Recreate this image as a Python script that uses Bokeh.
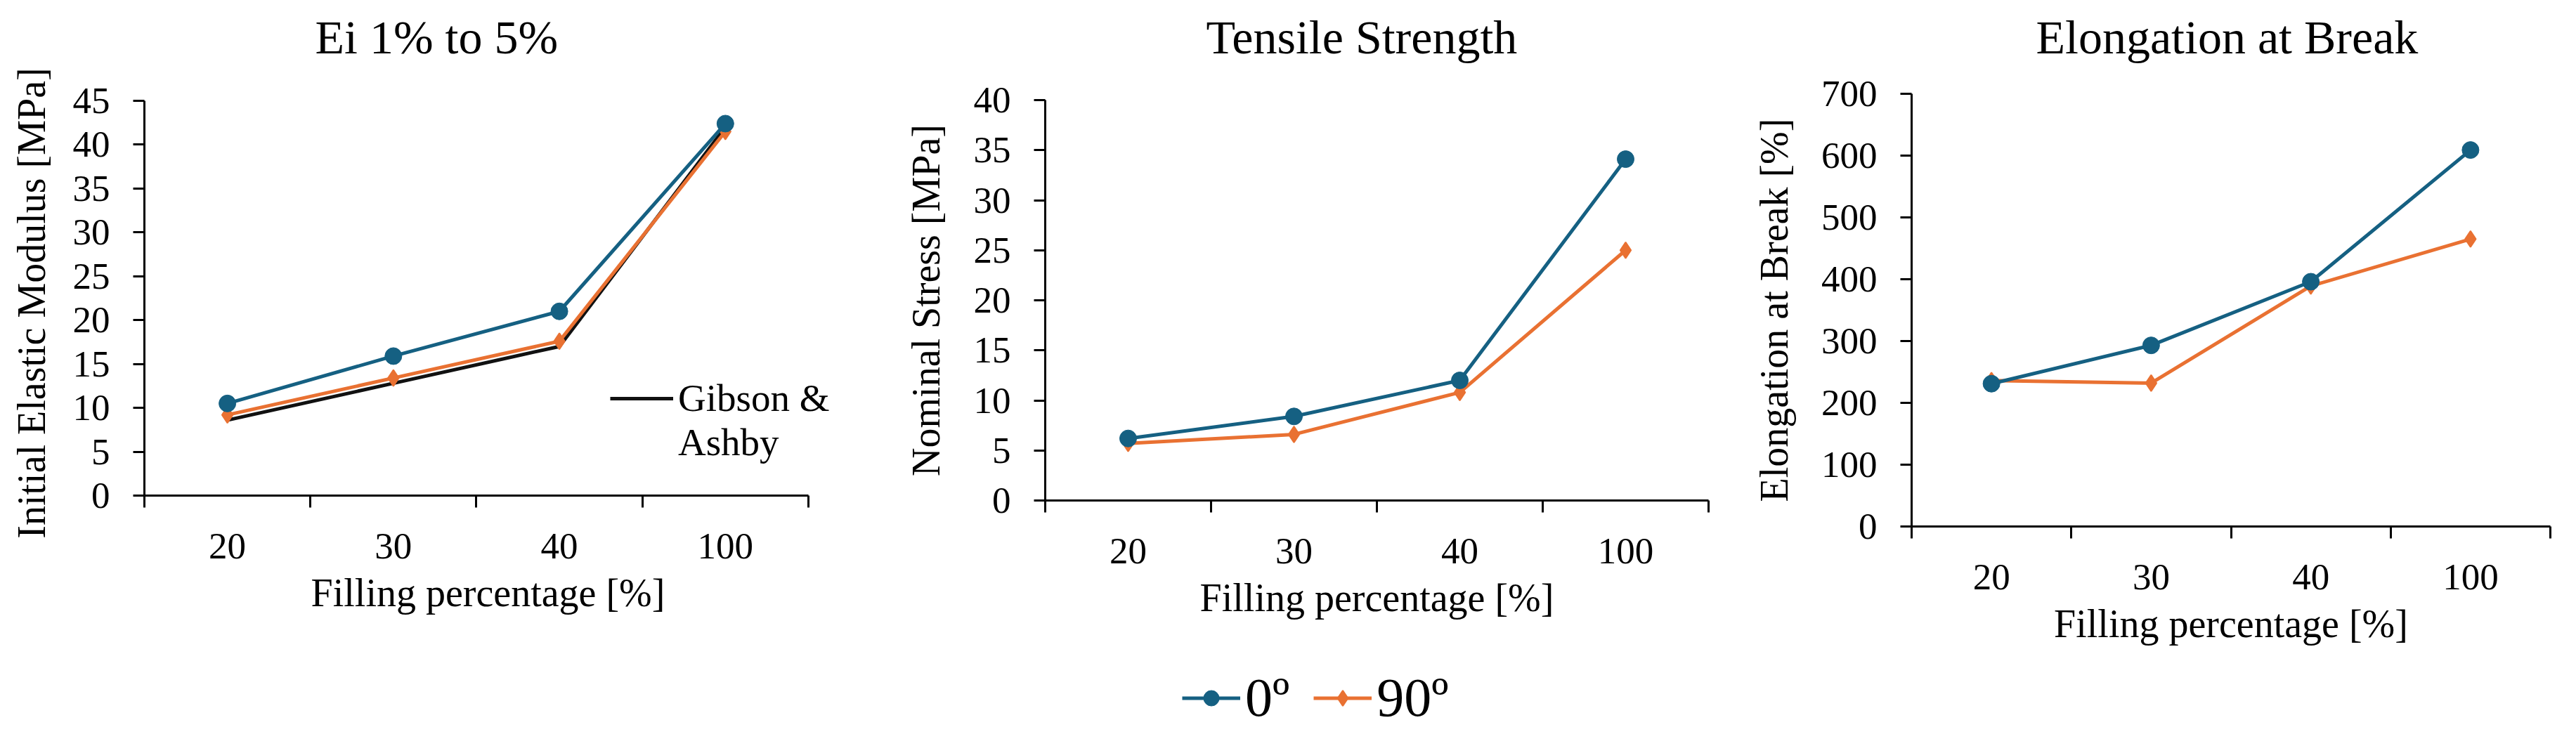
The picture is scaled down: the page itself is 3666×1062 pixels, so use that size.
from bokeh.plotting import figure
from bokeh.models import Range1d, FixedTicker, Legend, LegendItem, Title
from bokeh.embed import file_html
from bokeh.resources import INLINE

# filling percentage categories
fill = ["20", "30", "40", "100"]

# Ei 1% to 5% [MPa]
modulus_0 = [10.5, 15.9, 21.0, 42.4]
modulus_90 = [9.2, 13.4, 17.6, 41.5]
modulus_gibson = [8.6, 12.8, 17.0, 42.0]
modulus_ticks = [0, 5, 10, 15, 20, 25, 30, 35, 40, 45]

# tensile strength [MPa]
stress_0 = [6.2, 8.4, 12.0, 34.1]
stress_90 = [5.7, 6.6, 10.8, 25.0]
stress_ticks = [0, 5, 10, 15, 20, 25, 30, 35, 40]

# elongation at break [%]
elong_0 = [231, 293, 396, 609]
elong_90 = [236, 232, 389, 465]
elong_ticks = [0, 100, 200, 300, 400, 500, 600, 700]

FONT = "Liberation Serif"
BLUE = "#156082"
ORANGE = "#E97132"

# categories sit in the middle of equal slots, tick marks on the slot edges
centers = [i + 0.5 for i in range(len(fill))]
edges = [float(i) for i in range(len(fill) + 1)]


def make_panel(title, ylabel, y_ticks, width, borders, title_offset, title_gap,
               ylabel_standoff, x_extra=0.0):
    left, right, top, bottom = borders
    p = figure(width=width, height=940,
               x_range=Range1d(0, len(fill) + x_extra),
               y_range=Range1d(y_ticks[0], y_ticks[-1]),
               output_backend="svg", toolbar_location=None, tools="",
               min_border_left=left, min_border_right=right,
               min_border_top=top, min_border_bottom=bottom)
    p.styles = {"float": "left"}
    p.outline_line_color = None
    p.xgrid.visible = False
    p.ygrid.visible = False

    # empty spacer title keeps the real title well above the frame
    p.add_layout(Title(text=" ", text_font_size="2px", standoff=title_gap), "above")
    p.add_layout(Title(text=title, text_font=FONT, text_font_size="68px",
                       text_font_style="normal", text_color="black",
                       align="left", offset=title_offset, standoff=0), "above")

    p.axis.axis_line_color = "black"
    p.axis.axis_line_width = 3
    p.axis.major_label_text_font = FONT
    p.axis.major_label_text_font_size = "53px"
    p.axis.major_label_text_color = "black"
    p.axis.axis_label_text_font = FONT
    p.axis.axis_label_text_font_size = "56px"
    p.axis.axis_label_text_font_style = "normal"
    p.axis.axis_label_text_color = "black"

    p.xaxis.ticker = FixedTicker(ticks=centers, minor_ticks=edges)
    p.xaxis.major_label_overrides = {c: f for c, f in zip(centers, fill)}
    p.xaxis.bounds = (0, len(fill))
    p.xaxis.major_tick_out = 0
    p.xaxis.major_tick_in = 0
    p.xaxis.minor_tick_out = 17
    p.xaxis.minor_tick_in = 0
    p.xaxis.minor_tick_line_width = 3
    p.xaxis.minor_tick_line_color = "black"
    p.xaxis.major_label_standoff = 37
    p.xaxis.axis_label = "Filling percentage [%]"
    p.xaxis.axis_label_standoff = 15

    p.yaxis.ticker = FixedTicker(ticks=y_ticks)
    p.yaxis.major_tick_out = 16
    p.yaxis.major_tick_in = 0
    p.yaxis.major_tick_line_width = 3
    p.yaxis.major_tick_line_color = "black"
    p.yaxis.major_label_standoff = 33
    p.yaxis.axis_label = ylabel
    p.yaxis.axis_label_standoff = ylabel_standoff
    return p


def add_series(p, y0, y90, visible=True):
    o_line = p.line(centers, y90, line_color=ORANGE, line_width=5, visible=visible)
    o_pts = p.scatter(centers, y90, marker="diamond", size=23, line_width=2,
                      fill_color=ORANGE, line_color=ORANGE, visible=visible)
    b_line = p.line(centers, y0, line_color=BLUE, line_width=5, visible=visible)
    b_pts = p.scatter(centers, y0, marker="circle", size=24, line_width=1,
                      fill_color=BLUE, line_color=BLUE, visible=visible)
    return (b_line, b_pts), (o_line, o_pts)


# Ei 1% to 5% (frame runs a little past the axis so the legend text is not clipped)
p1 = make_panel("Ei 1% to 5%", "Initial Elastic Modulus  [MPa]", modulus_ticks,
                1242, (205, 59, 143, 235), 243, 49, 25, x_extra=0.14)
g_line = p1.line(centers, modulus_gibson, line_color="#111111", line_width=5)
add_series(p1, modulus_0, modulus_90)
blank = p1.line(x=[], y=[], line_alpha=0)
gibson_legend = Legend(
    items=[LegendItem(label="Gibson &", renderers=[g_line]),
           LegendItem(label="Ashby", renderers=[blank])],
    orientation="vertical", location=(663, 44), glyph_width=90, glyph_height=30,
    label_standoff=7, spacing=0, padding=0, margin=0,
    border_line_color=None, background_fill_alpha=0,
    label_text_font=FONT, label_text_font_size="55px", label_text_color="black")
p1.add_layout(gibson_legend)

# Tensile Strength
p2 = make_panel("Tensile Strength", "Nominal Stress [MPa]", stress_ticks,
                1240, (245, 51, 142, 228), 229, 48, 34)
add_series(p2, stress_0, stress_90)

# Elongation at Break
p3 = make_panel("Elongation at Break", "Elongation at Break [%]", elong_ticks,
                1166, (238, 19, 133, 191), 177, 39, 33)
add_series(p3, elong_0, elong_90)

# shared legend below the middle chart (keys only, series hidden)
pl = figure(width=420, height=104, x_range=Range1d(0, len(fill)), y_range=Range1d(0, 40),
            x_axis_location=None, y_axis_location=None,
            output_backend="svg", toolbar_location=None, tools="",
            min_border=0, min_border_left=0, min_border_right=0,
            min_border_top=0, min_border_bottom=0)
pl.styles = {"float": "left", "clear": "left", "margin-left": "1672px"}
pl.outline_line_color = None
pl.xgrid.visible = False
pl.ygrid.visible = False
blue_r, orange_r = add_series(pl, stress_0, stress_90, visible=False)
series_legend = Legend(
    items=[LegendItem(label="0º", renderers=list(blue_r)),
           LegendItem(label="90º", renderers=list(orange_r))],
    orientation="horizontal", location=(10, 6), glyph_width=83, glyph_height=55,
    label_standoff=7, spacing=34, padding=0, margin=0,
    border_line_color=None, background_fill_alpha=0,
    label_text_font=FONT, label_text_font_size="78px", label_text_color="black")
pl.add_layout(series_legend)

open("out.html", "w").write(file_html([p1, p2, p3, pl], INLINE))
